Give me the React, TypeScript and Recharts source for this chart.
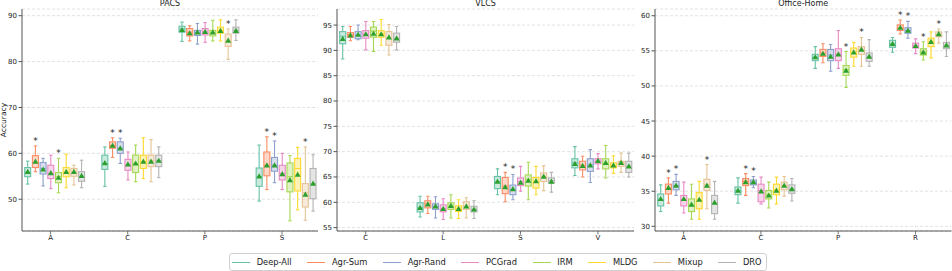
import React from 'react';
import { ComposedChart, Bar, XAxis, YAxis, CartesianGrid } from 'recharts';

const FONT = '"DejaVu Sans", sans-serif';
const FRAME = '#555';

const METHODS = ['Deep-All', 'Agr-Sum', 'Agr-Rand', 'PCGrad', 'IRM', 'MLDG', 'Mixup', 'DRO'];
const COLORS = ['#66c2a5', '#fc8d62', '#8da0cb', '#e78ac3', '#a6d854', '#ffd92f', '#e5c494', '#b3b3b3'];

// each box: [whisker low, q1, median, q3, whisker high, mean]
const PACS_DOMAINS = ['A', 'C', 'P', 'S'];
const PACS_STATS = [
  [
    [53.3, 54.9, 55.9, 56.9, 58.3, 56.0],
    [56.0, 56.9, 58.0, 59.5, 61.6, 58.2],
    [52.9, 55.5, 56.7, 58.0, 58.9, 56.5],
    [52.3, 54.5, 55.6, 57.4, 59.6, 55.7],
    [51.4, 53.6, 54.9, 55.8, 58.9, 54.7],
    [52.5, 54.9, 55.9, 56.9, 59.8, 56.0],
    [53.1, 55.0, 55.9, 56.7, 57.4, 56.0],
    [52.5, 53.9, 55.0, 56.0, 58.5, 55.1],
  ],
  [
    [52.8, 56.5, 57.8, 59.6, 61.4, 57.9],
    [59.1, 61.1, 61.7, 62.5, 63.4, 61.7],
    [57.8, 60.0, 61.1, 62.5, 63.3, 61.1],
    [54.2, 56.3, 57.4, 58.7, 60.3, 57.6],
    [53.8, 55.8, 57.8, 59.6, 61.8, 57.8],
    [54.5, 56.7, 58.2, 59.6, 63.4, 58.2],
    [53.8, 57.1, 58.4, 59.6, 63.0, 58.2],
    [54.7, 57.1, 58.4, 59.6, 61.4, 58.4],
  ],
  [
    [84.4, 86.4, 87.1, 87.7, 88.6, 86.9],
    [84.5, 85.6, 86.4, 87.2, 87.8, 86.2],
    [83.8, 85.7, 86.4, 86.8, 88.3, 86.4],
    [84.2, 85.8, 86.5, 87.2, 88.5, 86.5],
    [84.5, 85.6, 86.2, 86.8, 89.0, 86.4],
    [84.5, 86.2, 86.8, 87.5, 89.1, 86.7],
    [80.5, 83.3, 84.4, 86.0, 87.1, 84.6],
    [84.6, 86.2, 86.8, 87.5, 89.1, 86.7],
  ],
  [
    [49.6, 52.8, 54.9, 56.8, 61.8, 55.0],
    [52.1, 55.1, 57.4, 60.3, 63.6, 57.4],
    [53.6, 56.1, 57.4, 59.1, 62.7, 57.4],
    [52.1, 54.2, 55.6, 57.4, 60.0, 55.5],
    [45.3, 51.6, 54.9, 57.9, 59.5, 54.2],
    [47.7, 51.8, 56.7, 58.9, 61.3, 55.4],
    [45.4, 48.3, 51.4, 53.4, 61.4, 51.0],
    [47.4, 50.1, 53.4, 56.7, 59.7, 53.4],
  ],
];
const PACS_STARS = [[1, 4], [1, 2], [6], [1, 2, 6]];
const PACS_TICKS = [50, 60, 70, 80, 90];

const VLCS_DOMAINS = ['C', 'L', 'S', 'V'];
const VLCS_STATS = [
  [
    [88.3, 91.3, 92.8, 93.7, 94.7, 92.3],
    [91.9, 92.6, 93.1, 93.5, 94.7, 93.0],
    [92.1, 92.3, 93.0, 93.7, 95.0, 93.1],
    [90.1, 92.4, 93.2, 93.9, 95.7, 93.2],
    [89.8, 92.6, 93.8, 94.6, 95.7, 93.3],
    [91.0, 92.6, 93.2, 93.9, 96.1, 93.2],
    [89.1, 91.0, 92.4, 93.7, 95.1, 92.6],
    [90.1, 91.6, 92.4, 93.4, 94.7, 92.4],
  ],
  [
    [57.1, 58.1, 58.9, 59.9, 61.2, 58.9],
    [57.8, 58.9, 59.7, 60.3, 61.2, 59.6],
    [56.9, 58.6, 59.2, 59.7, 61.1, 59.2],
    [56.6, 58.1, 58.7, 59.5, 60.7, 58.7],
    [56.9, 58.6, 59.2, 59.9, 61.5, 59.3],
    [56.8, 58.2, 58.7, 59.3, 60.5, 58.7],
    [56.9, 58.6, 59.2, 60.1, 60.9, 59.2],
    [56.8, 58.1, 58.6, 59.2, 60.3, 58.6],
  ],
  [
    [61.5, 62.7, 64.1, 65.1, 66.6, 64.1],
    [60.1, 61.7, 63.2, 64.9, 65.9, 63.0],
    [60.5, 61.5, 62.5, 63.4, 65.5, 62.6],
    [62.2, 63.3, 64.1, 64.8, 67.1, 63.9],
    [60.5, 63.2, 64.5, 65.4, 67.9, 64.3],
    [61.5, 62.8, 64.0, 64.9, 67.1, 64.2],
    [62.3, 64.1, 65.1, 65.8, 67.2, 65.1],
    [62.0, 63.8, 64.3, 64.8, 65.9, 64.1],
  ],
  [
    [65.3, 66.8, 67.8, 68.6, 71.0, 67.6],
    [65.0, 66.4, 67.3, 68.1, 69.1, 67.2],
    [63.9, 66.1, 67.4, 68.6, 70.4, 67.3],
    [66.6, 67.6, 68.1, 68.6, 69.6, 68.2],
    [64.8, 66.6, 67.6, 68.6, 71.2, 67.8],
    [65.7, 66.8, 67.3, 67.8, 69.2, 67.3],
    [65.9, 67.1, 67.8, 68.1, 69.7, 67.8],
    [65.0, 65.9, 67.1, 68.1, 69.7, 67.1],
  ],
];
const VLCS_STARS = [[], [], [1, 2], []];
const VLCS_TICKS = [55, 60, 65, 70, 75, 80, 85, 90, 95];

const OH_DOMAINS = ['A', 'C', 'P', 'R'];
const OH_STATS = [
  [
    [32.1, 32.9, 33.8, 34.6, 35.9, 33.9],
    [33.3, 34.6, 35.4, 36.0, 36.9, 35.5],
    [34.4, 35.2, 35.8, 36.4, 37.4, 35.8],
    [31.9, 32.9, 33.8, 34.4, 36.3, 33.9],
    [31.0, 32.1, 33.0, 33.9, 36.0, 33.1],
    [31.0, 32.5, 33.7, 34.8, 36.4, 33.8],
    [32.5, 35.1, 35.9, 36.7, 38.8, 35.8],
    [31.0, 31.8, 33.3, 34.4, 36.4, 33.4],
  ],
  [
    [33.3, 34.5, 35.1, 35.6, 36.9, 35.1],
    [34.4, 35.8, 36.4, 36.8, 37.5, 36.3],
    [35.5, 35.9, 36.3, 36.6, 37.1, 36.3],
    [33.2, 33.5, 35.1, 36.0, 37.0, 35.0],
    [32.6, 33.9, 34.5, 35.1, 36.3, 34.4],
    [33.2, 34.5, 35.2, 36.0, 37.0, 35.1],
    [34.3, 35.2, 35.8, 36.3, 37.1, 35.8],
    [33.6, 34.7, 35.3, 35.9, 36.8, 35.3],
  ],
  [
    [52.5, 53.6, 54.1, 54.5, 55.6, 54.1],
    [53.3, 54.2, 54.7, 55.2, 56.0, 54.6],
    [52.1, 53.6, 54.4, 55.2, 55.9, 54.2],
    [52.5, 53.6, 54.5, 55.3, 57.9, 54.5],
    [49.8, 51.5, 52.3, 52.9, 54.9, 52.2],
    [52.8, 54.1, 54.8, 55.4, 56.2, 54.8],
    [52.8, 54.5, 55.1, 55.6, 56.9, 55.2],
    [52.8, 53.5, 54.1, 54.7, 56.6, 54.2],
  ],
  [
    [54.8, 55.5, 56.0, 56.5, 56.9, 56.0],
    [57.4, 57.9, 58.2, 58.7, 59.4, 58.3],
    [56.8, 57.5, 57.9, 58.3, 59.2, 57.9],
    [54.6, 55.4, 55.7, 56.1, 56.7, 55.7],
    [53.7, 54.4, 54.8, 55.3, 56.3, 54.8],
    [54.0, 55.6, 56.3, 56.8, 57.7, 56.3],
    [56.1, 57.0, 57.3, 57.7, 58.1, 57.4],
    [54.2, 55.3, 55.8, 56.2, 57.7, 55.8],
  ],
];
const OH_STARS = [[1, 2, 6], [1, 2], [4, 6], [1, 2, 4, 6]];
const OH_TICKS = [30, 35, 40, 45, 50, 55, 60];

function buildRows(domains: string[], stats: number[][][]) {
  return domains.map((d, i) => {
    const row: any = { domain: d };
    METHODS.forEach((m, j) => {
      row[m] = [stats[i][j][0], stats[i][j][4]];
    });
    return row;
  });
}

const makeBoxShape = (stats: number[][][], stars: number[][], j: number) => (props: any) => {
  const { x, y, width, height, index } = props;
  if (x == null || y == null || height == null) return <g />;
  const s = stats[index][j];
  const [lo, q1, med, q3, hi, mean] = s;
  const top = Math.min(y, y + height);
  const h = Math.abs(height);
  const k = h / (hi - lo);
  const py = (v: number) => top + (hi - v) * k;
  const cx = x + width / 2;
  const bw = 6;
  const cap = 3.4;
  const color = COLORS[j];
  const my = py(mean);
  const starred = stars[index].includes(j);
  return (
    <g>
      <line x1={cx} x2={cx} y1={py(hi)} y2={py(q3)} stroke={color} strokeWidth={1.1} />
      <line x1={cx} x2={cx} y1={py(q1)} y2={py(lo)} stroke={color} strokeWidth={1.1} />
      <line x1={cx - cap / 2} x2={cx + cap / 2} y1={py(hi)} y2={py(hi)} stroke={color} strokeWidth={1.1} />
      <line x1={cx - cap / 2} x2={cx + cap / 2} y1={py(lo)} y2={py(lo)} stroke={color} strokeWidth={1.1} />
      <rect x={cx - bw / 2} y={py(q3)} width={bw} height={Math.max(py(q1) - py(q3), 0.5)} fill={color} fillOpacity={0.35} stroke={color} strokeWidth={1.1} />
      <line x1={cx - bw / 2} x2={cx + bw / 2} y1={py(med)} y2={py(med)} stroke={color} strokeWidth={1.1} />
      <path d={`M${cx},${my - 3} L${cx + 3},${my + 2.2} L${cx - 3},${my + 2.2} Z`} fill="#2ca02c" />
      {starred && (
        <text x={cx} y={py(hi) - 2} textAnchor="middle" fontSize={9} fontFamily={FONT} fill="#222">*</text>
      )}
    </g>
  );
};

const XTick = (props: any) => {
  const { x, y, payload } = props;
  const ax = x - 3.7;
  const axisY = y - 5.5;
  return (
    <g>
      <line x1={ax} x2={ax} y1={axisY} y2={axisY + 3.5} stroke={FRAME} strokeWidth={0.8} />
      <text x={ax} y={axisY + 9} textAnchor="middle" fontSize={7} fill="#222" fontFamily={FONT}>{payload.value}</text>
    </g>
  );
};

const YLabel = (props: any) => {
  const vb = props.viewBox || {};
  const cy = vb.y + vb.height / 2;
  return (
    <text x={5.5} y={cy} transform={`rotate(-90, 5.5, ${cy})`} textAnchor="middle" fontSize={7.5} fill="#222" fontFamily={FONT}>Accuracy</text>
  );
};

type PanelProps = {
  title: string;
  domains: string[];
  stats: number[][][];
  stars: number[][];
  yDomain: [number, number];
  yTicks: number[];
  left: number;
  width: number;
  yAxisWidth: number;
  marginRight: number;
  showYLabel?: boolean;
};

function Panel(p: PanelProps) {
  const rows = buildRows(p.domains, p.stats);
  const pad = { left: -6.3, right: -6.3 };
  const titleX = (p.yAxisWidth + p.width - p.marginRight) / 2;
  return (
    <div style={{ position: 'absolute', left: p.left, top: 0, width: p.width, height: 250 }}>
      <ComposedChart
        width={p.width}
        height={250}
        data={rows}
        margin={{ top: 9, right: p.marginRight, bottom: 0, left: 0 }}
        barSize={6}
        barGap={1.7}
      >
        <CartesianGrid vertical={false} stroke="#e2e2e2" strokeDasharray="3 2" />
        <XAxis
          dataKey="domain"
          padding={pad}
          height={19}
          tickSize={3.5}
          tickMargin={2}
          tickLine={false}
          tick={XTick}
          axisLine={{ stroke: FRAME }}
        />
        <XAxis
          xAxisId="top"
          orientation="top"
          dataKey="domain"
          padding={pad}
          height={0}
          tick={false}
          tickLine={false}
          axisLine={{ stroke: FRAME }}
        />
        <YAxis
          type="number"
          domain={p.yDomain}
          ticks={p.yTicks}
          allowDataOverflow
          width={p.yAxisWidth}
          tickSize={3.5}
          tickMargin={1.5}
          tick={{ fontSize: 7, fill: '#222', fontFamily: FONT }}
          tickLine={{ stroke: FRAME }}
          axisLine={{ stroke: FRAME }}
          label={p.showYLabel ? <YLabel /> : undefined}
        />
        <YAxis
          yAxisId="r"
          orientation="right"
          width={0}
          tick={false}
          tickLine={false}
          axisLine={{ stroke: FRAME }}
        />
        {METHODS.map((m, j) => (
          <Bar key={m} dataKey={m} isAnimationActive={false} shape={makeBoxShape(p.stats, p.stars, j)} />
        ))}
      </ComposedChart>
      <svg width={p.width} height={9} style={{ position: 'absolute', left: 0, top: 0, pointerEvents: 'none' }}>
        <text x={titleX} y={6.2} textAnchor="middle" fontSize={8} fill="#222" fontFamily={FONT}>{p.title}</text>
      </svg>
    </div>
  );
}

export default function App() {
  return (
    <div style={{ position: 'absolute', left: 0, top: 0, width: 952, height: 271, background: '#fff', overflow: 'hidden', fontFamily: FONT }}>
      <Panel title="PACS" domains={PACS_DOMAINS} stats={PACS_STATS} stars={PACS_STARS} yDomain={[43.07, 91.46]} yTicks={PACS_TICKS} left={0} width={320} yAxisWidth={22} marginRight={2} showYLabel />
      <Panel title="VLCS" domains={VLCS_DOMAINS} stats={VLCS_STATS} stars={VLCS_STARS} yDomain={[54.33, 98.17]} yTicks={VLCS_TICKS} left={317} width={320} yAxisWidth={20} marginRight={3} />
      <Panel title="Office-Home" domains={OH_DOMAINS} stats={OH_STATS} stars={OH_STARS} yDomain={[29.33, 60.96]} yTicks={OH_TICKS} left={635} width={317} yAxisWidth={20} marginRight={0.5} />
      <div
        style={{
          position: 'absolute',
          left: 229,
          top: 253,
          height: 18,
          boxSizing: 'border-box',
          border: '1px solid #d0d0d0',
          borderRadius: 3,
          display: 'flex',
          alignItems: 'center',
          padding: '0 4px 0 2px',
          fontFamily: FONT,
          fontSize: 8.3,
          color: '#222',
          background: '#fff',
          whiteSpace: 'nowrap',
        }}
      >
        {METHODS.map((m, i) => (
          <div key={m} style={{ display: 'flex', alignItems: 'center', marginRight: i < METHODS.length - 1 ? 15.6 : 0 }}>
            <span style={{ display: 'inline-block', width: 18, height: 0, borderTop: `1.5px solid ${COLORS[i]}`, marginRight: 6.7 }} />
            <span>{m}</span>
          </div>
        ))}
      </div>
    </div>
  );
}
